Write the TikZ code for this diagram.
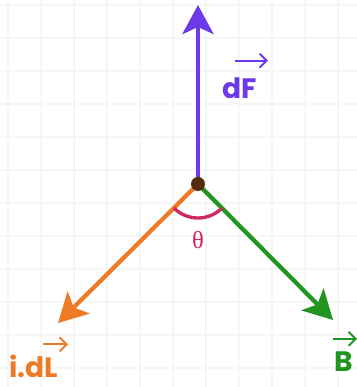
\documentclass[tikz,border=0pt]{standalone}
\usepackage{fontspec}
\setmainfont{Poppins}
\newfontfamily\greekfont{Liberation Serif}
\usetikzlibrary{arrows.meta,positioning,calc}
\definecolor{forcecol}{RGB}{108,58,232}
\definecolor{currcol}{RGB}{238,122,38}
\definecolor{fieldcol}{RGB}{32,150,32}
\definecolor{anglecol}{RGB}{205,40,95}
\definecolor{dotcol}{RGB}{85,42,12}
\definecolor{gridcol}{RGB}{246,246,247}
\tikzset{
  vec/.style={draw=#1,line width=2.4pt,-{Stealth[length=5.8mm,width=6.2mm,inset=1.4mm]}},
  vec/.default=forcecol,
  lbl/.style={text=#1,font=\fontsize{16}{16}\selectfont\bfseries,inner sep=0pt},
  over/.style={draw=#1,line width=1.1pt,-{Straight Barb[length=1.4mm,width=2.8mm]}},
}
\begin{document}
\begin{tikzpicture}[x=0.02cm,y=0.02cm]
  \useasboundingbox[fill=white] (0,0) rectangle (357,387);
  % faint squared paper
  \foreach \gx in {8,41,...,360} \draw[gridcol,line width=1pt] (\gx,0) -- (\gx,387);
  \foreach \gy in {382,349,...,0} \draw[gridcol,line width=1pt] (0,\gy) -- (357,\gy);

  \coordinate (O) at (198,203);
  \coordinate (tipF) at (198,382);
  \coordinate (tipI) at (58,64);
  \coordinate (tipB) at (333,67);

  \draw[vec=forcecol] (O) -- (tipF);
  \draw[vec=currcol] (O) -- (tipI);
  \draw[vec=fieldcol] (O) -- (tipB);

  % angle between i.dL and B
  \draw[anglecol,line width=1.9pt] ($(O)+(225:0.68cm)$) arc[start angle=225,end angle=315,radius=0.68cm];
  \node[text=anglecol,font=\greekfont\fontsize{14}{14}\selectfont] (theta) at (198,147) {θ};

  \node[circle,fill=dotcol,minimum size=0.28cm,inner sep=0pt] (dot) at (O) {};

  \node[lbl=forcecol] (dF) at (240,298.5) {dF};
  \node[lbl=currcol] (idL) at (34,21) {i.dL};
  \node[lbl=fieldcol] (B) at (343.5,25) {B};

  \draw[over=forcecol] ($(dF.north)+(-5,17)$) -- ++(33,0);
  \draw[over=currcol] ($(idL.north)+(9,10)$) -- ++(25,0);
  \draw[over=fieldcol] ($(B.north)+(-10.5,13)$) -- ++(24,0);
\end{tikzpicture}
\end{document}
